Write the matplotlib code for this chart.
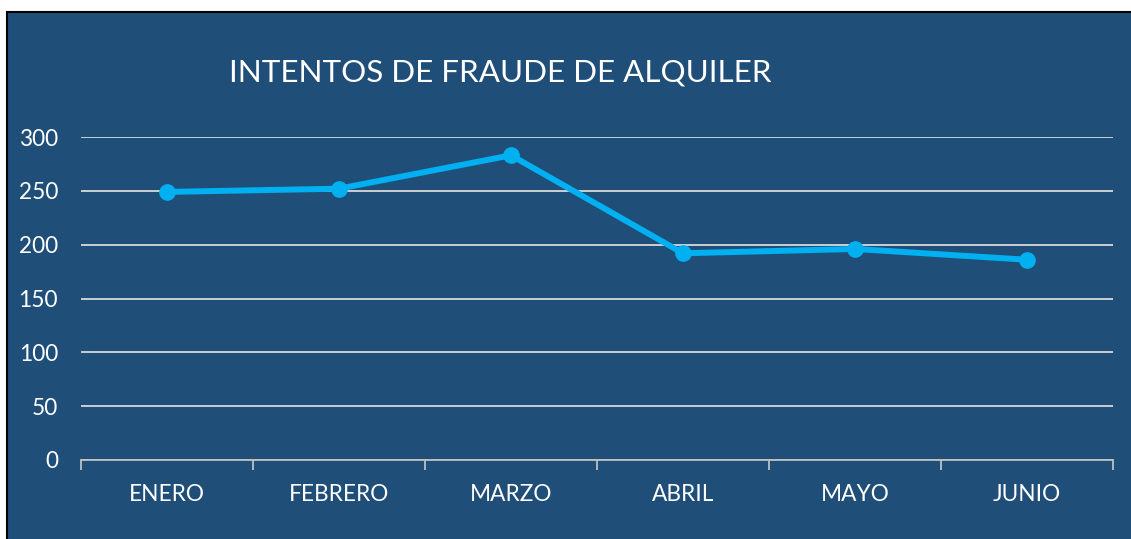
import matplotlib.pyplot as plt
from matplotlib.patches import Rectangle

meses = ["ENERO", "FEBRERO", "MARZO", "ABRIL", "MAYO", "JUNIO"]
intentos = [249, 252, 283, 192, 196, 186]
y_ticks = [0, 50, 100, 150, 200, 250, 300]

fondo = "#1F4E79"
linea = "#00B0F0"
W, H = 1131, 539

plt.rcParams["font.family"] = ["Lato", "DejaVu Sans"]

fig = plt.figure(figsize=(W / 100, H / 100), dpi=100)
fig.patch.set_facecolor("white")

# fondo azul con borde negro
fig.add_artist(Rectangle((7 / W, -0.01), 1.1, (H - 12) / H + 0.01,
                         transform=fig.transFigure, facecolor=fondo,
                         edgecolor="black", linewidth=1.5, zorder=0))

ax = fig.add_axes([81 / W, (H - 460) / H, 1032 / W, 323 / H])
ax.set_facecolor("none")
x = list(range(len(meses)))
ax.plot(x, intentos, color=linea, linewidth=4.3, marker="o", markersize=11,
        solid_capstyle="round", zorder=3)

ax.set_xlim(-0.5, len(meses) - 0.5)
ax.set_ylim(0, 300)
ax.set_yticks(y_ticks)
ax.set_yticklabels([str(v) for v in y_ticks], color="white", fontsize=16.3)
ax.tick_params(axis="y", length=0, pad=16.5)
ax.grid(axis="y", color="#D9D9D9", linewidth=1.3)
ax.set_axisbelow(True)

ax.set_xticks([i - 0.5 for i in range(len(meses) + 1)])
ax.set_xticklabels([])
ax.set_xticks(x, minor=True)
ax.set_xticklabels(meses, minor=True, color="white", fontsize=16.3)
ax.tick_params(axis="x", which="major", length=7, width=1.3, color="#BFBFBF",
               direction="out")
ax.tick_params(axis="x", which="minor", length=0, pad=17)

for s in ["top", "right", "left"]:
    ax.spines[s].set_visible(False)
ax.spines["bottom"].set_color("#BFBFBF")
ax.spines["bottom"].set_linewidth(1.3)

fig.text(229 / W, 1 - 72 / H, "INTENTOS DE FRAUDE DE ALQUILER", color="white",
         fontsize=22.6, ha="left", va="center")

fig.savefig("out.png", dpi=100, facecolor=fig.get_facecolor())
